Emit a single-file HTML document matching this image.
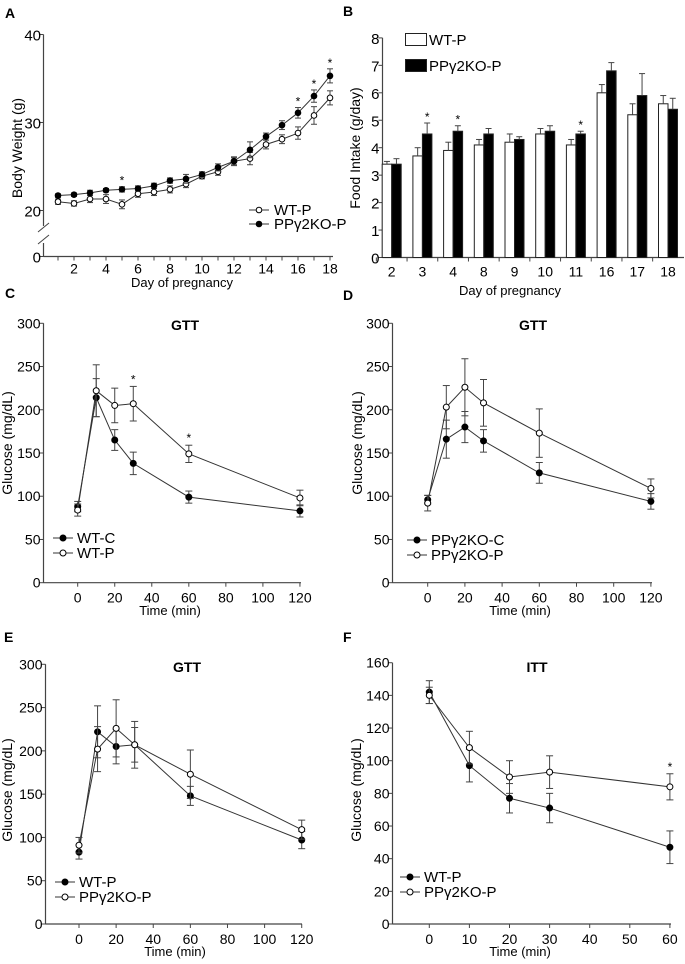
<!DOCTYPE html>
<html><head><meta charset="utf-8"><style>
body{margin:0;background:#fff;}
svg{display:block;font-family:"Liberation Sans",Arial,sans-serif;}
</style></head><body>
<svg id="fig" width="685" height="964" viewBox="0 0 685 964" xmlns="http://www.w3.org/2000/svg">
<g font-weight="bold" font-size="14" fill="#000">
<text x="5" y="18">A</text>
<text x="343" y="16">B</text>
<text x="5" y="298">C</text>
<text x="343" y="300">D</text>
<text x="4" y="642">E</text>
<text x="343" y="642">F</text>
</g>
<g id="root"></g>
</svg>
<script>
// ---- Panel A data ----
const aDays=[1,2,3,4,5,6,7,8,9,10,11,12,13,14,15,16,17,18];
const aWT=[21.0,20.8,21.3,21.3,20.7,21.9,22.1,22.4,23.0,23.9,24.4,25.6,25.9,27.5,28.1,28.8,30.8,32.8];
const aWTerr=[0.3,0.3,0.4,0.5,0.5,0.4,0.4,0.4,0.4,0.3,0.4,0.5,0.7,0.5,0.5,0.7,1.0,0.8];
const aKO=[21.7,21.8,22.0,22.3,22.4,22.5,22.8,23.4,23.6,24.1,24.9,25.6,26.9,28.4,29.7,31.1,33.0,35.3];
const aKOerr=[0.2,0.2,0.3,0.2,0.3,0.3,0.3,0.3,0.5,0.3,0.4,0.4,0.9,0.4,0.5,0.6,0.7,0.8];
const aStars=[5,16,17,18];
const aYTicks=[20,30,40];
const aXTicks=[2,4,6,8,10,12,14,16,18];
// ---- Panel B data ----
const bDays=["2","3","4","8","9","10","11","16","17","18"];
const bWT=[3.4,3.7,3.9,4.1,4.2,4.5,4.1,6.0,5.2,5.6];
const bWTerr=[0.1,0.3,0.3,0.2,0.3,0.2,0.2,0.3,0.4,0.3];
const bKO=[3.4,4.5,4.6,4.5,4.3,4.6,4.5,6.8,5.9,5.4];
const bKOerr=[0.2,0.4,0.2,0.2,0.1,0.2,0.1,0.3,0.8,0.4];
const bStars=["3","4","11"];
const bYTicks=[0,1,2,3,4,5,6,7,8];
// ---- Panel C data ----
const gttTimes=[0,10,20,30,60,120];
const cWTC=[88,214,165,138,99,83];
const cWTCerr=[6,22,12,13,7,7];
const cWTP=[84,222,205,207,149,98];
const cWTPerr=[7,30,20,20,10,9];
const cStars=[30,60];
// ---- Panel D data ----
const dKOC=[96,166,180,164,127,94];
const dKOCerr=[5,22,18,13,12,9];
const dKOP=[92,203,226,208,173,109];
const dKOPerr=[9,25,33,27,28,11];
// ---- Panel E data ----
const eWTP=[83,222,205,207,148,97];
const eWTPerr=[8,30,20,20,11,10];
const eKOP=[91,202,226,207,173,109];
const eKOPerr=[9,26,33,27,28,11];
// ---- Panel F data ----
const ittTimes=[0,10,20,30,60];
const fWTP=[142,97,77,71,47];
const fWTPerr=[7,10,9,9,10];
const fKOP=[140,108,90,93,84];
const fKOPerr=[5,10,10,10,8];
const fStars=[60];
const gYTicks=[0,50,100,150,200,250,300];
const gXTicks=[0,20,40,60,80,100,120];
const fYTicks=[0,20,40,60,80,100,120,140,160];
const fXTicks=[0,10,20,30,40,50,60];

const NS="http://www.w3.org/2000/svg";
const root=document.getElementById('root');
function el(tag,attrs,parent,text){const e=document.createElementNS(NS,tag);for(const k in attrs)e.setAttribute(k,attrs[k]);if(text!==undefined)e.textContent=text;(parent||root).appendChild(e);return e;}
const AX="#444";

function linePanel(p){
  const g=el('g',{});
  
  
  const X=v=>p.x0+v*p.xs, Y=v=>p.y0-v*p.ys;
  // axes
  const ya=el('line',{x1:p.ax,y1:Y(p.yTicks[p.yTicks.length-1]),x2:p.ax,y2:p.y0,stroke:AX,'stroke-width':1.2},g);
  
  const xa=el('line',{x1:p.ax,y1:p.y0,x2:p.xEnd,y2:p.y0,stroke:AX,'stroke-width':1.2},g);
  
  p.yTicks.forEach(t=>{
    el('line',{x1:p.ax-4,y1:Y(t),x2:p.ax,y2:Y(t),stroke:AX},g);
    const tx=el('text',{x:p.ax-3,y:Y(t)+5,'text-anchor':'end','font-size':14},g,t);
    
  });
  p.xTicks.forEach(t=>{
    el('line',{x1:X(t),y1:p.y0,x2:X(t),y2:p.y0+4,stroke:AX},g);
    const tx=el('text',{x:X(t),y:p.y0+20,'text-anchor':'middle','font-size':14},g,t);
    
  });
  const xt=el('text',{x:p.xtX,y:p.xtY,'text-anchor':'middle','font-size':13},g,p.xTitle);
  
  const yt=el('text',{x:0,y:0,transform:`translate(${p.ytX},${p.ytY}) rotate(-90)`,'text-anchor':'middle','font-size':14},g,p.yTitle);
  
  const tt=el('text',{x:p.titleX,y:p.titleY,'text-anchor':'middle','font-size':14,'font-weight':'bold'},g,p.title);
  
  // series
  p.series.forEach(s=>{
    const pts=p.times.map((t,i)=>X(t)+','+Y(s.v[i])).join(' ');
    const pl=el('polyline',{points:pts,fill:'none',stroke:'#333','stroke-width':1},g);
    
    p.times.forEach((t,i)=>{
      const x=X(t),hi=Y(s.v[i]+s.e[i]),lo=Y(s.v[i]-s.e[i]);
      el('line',{x1:x,y1:hi,x2:x,y2:lo,stroke:'#444'},g);
      el('line',{x1:x-3.5,y1:hi,x2:x+3.5,y2:hi,stroke:'#444'},g);
      el('line',{x1:x-3.5,y1:lo,x2:x+3.5,y2:lo,stroke:'#444'},g);
      const c=el('circle',{cx:x,cy:Y(s.v[i]),r:3,fill:s.open?'#fff':'#000',stroke:'#000','stroke-width':1},g);
      
    });
    const lg=el('g',{},g);
    
    el('line',{x1:s.lx,y1:s.ly,x2:s.lx+20,y2:s.ly,stroke:'#333'},lg);
    el('circle',{cx:s.lx+10,cy:s.ly,r:3,fill:s.open?'#fff':'#000',stroke:'#000'},lg);
    el('text',{x:s.lx+24,y:s.ly+5,'font-size':15},lg,s.label);
  });
  (p.stars||[]).forEach(t=>{
    const i=p.times.indexOf(t);const s=p.series[p.starSeries];
    const st=el('text',{x:X(t),y:Y(s.v[i]+s.e[i])-3,'text-anchor':'middle','font-size':12},g,'*');
    
  });
  return g;
}

// Panel A
(function(){
  const g=el('g',{});
  
  
  const ys=8.8,y30=122.5;
  const X=d=>74+(d-2)*16, Y=v=>y30-(v-30)*ys, y0=256.5;
  el('line',{x1:43.5,y1:Y(40),x2:43.5,y2:226,stroke:AX,'stroke-width':1.2},g);
  el('line',{x1:43.5,y1:243,x2:43.5,y2:y0,stroke:AX,'stroke-width':1.2},g);
  el('line',{x1:38,y1:232,x2:49,y2:223,stroke:AX},g);
  el('line',{x1:38,y1:244,x2:49,y2:235,stroke:AX},g);
  el('line',{x1:43.5,y1:y0,x2:333,y2:y0,stroke:AX,'stroke-width':1.2},g);
  aYTicks.forEach(t=>{el('line',{x1:39.5,y1:Y(t),x2:43.5,y2:Y(t),stroke:AX},g);
    const tx=el('text',{x:41,y:Y(t)+6,'text-anchor':'end','font-size':15},g,t);
    });
  el('line',{x1:39.5,y1:y0,x2:43.5,y2:y0,stroke:AX},g);
  el('text',{x:41,y:y0+6,'text-anchor':'end','font-size':15},g,'0');
  aDays.forEach(d=>el('line',{x1:X(d),y1:y0,x2:X(d),y2:y0+4,stroke:AX},g));
  aXTicks.forEach(d=>{const tx=el('text',{x:X(d),y:y0+17,'text-anchor':'middle','font-size':14},g,d);
    });
  const xt=el('text',{x:182,y:287,'text-anchor':'middle','font-size':13},g,'Day of pregnancy');
  
  const yt=el('text',{x:0,y:0,transform:'translate(22,148) rotate(-90)','text-anchor':'middle','font-size':14},g,'Body Weight (g)');
  
  [[aWT,aWTerr,true,'wt-p',210,'WT-P'],[aKO,aKOerr,false,'ppg2ko-p',224,'PPγ2KO-P']].forEach(([v,e,open,key,ly,lab])=>{
    const pl=el('polyline',{points:aDays.map((d,i)=>X(d)+','+Y(v[i])).join(' '),fill:'none',stroke:'#333'},g);
    
    aDays.forEach((d,i)=>{const x=X(d),hi=Y(v[i]+e[i]),lo=Y(v[i]-e[i]);
      el('line',{x1:x,y1:hi,x2:x,y2:lo,stroke:'#444'},g);
      el('line',{x1:x-3,y1:hi,x2:x+3,y2:hi,stroke:'#444'},g);
      el('line',{x1:x-3,y1:lo,x2:x+3,y2:lo,stroke:'#444'},g);
      const c=el('circle',{cx:x,cy:Y(v[i]),r:2.8,fill:open?'#fff':'#000',stroke:'#000'},g);
      });
    const lg=el('g',{},g);
    el('line',{x1:249,y1:ly,x2:269,y2:ly,stroke:'#333'},lg);
    el('circle',{cx:259,cy:ly,r:2.8,fill:open?'#fff':'#000',stroke:'#000'},lg);
    el('text',{x:274,y:ly+5,'font-size':15},lg,lab);
  });
  aStars.forEach(d=>{const i=aDays.indexOf(d);
    const st=el('text',{x:X(d),y:Y(aKO[i]+aKOerr[i])-2,'text-anchor':'middle','font-size':12},g,'*');
    });
})();

// Panel B
(function(){
  const g=el('g',{});
  
  
  const y0=257.5,ys=27.45,ax=382.5;
  const Y=v=>y0-v*ys, X=i=>391.7+i*30.7, bw=9.5;
  el('line',{x1:ax,y1:Y(8),x2:ax,y2:y0,stroke:AX,'stroke-width':1.2},g);
  el('line',{x1:ax,y1:y0,x2:684,y2:y0,stroke:AX,'stroke-width':1.2},g);
  bYTicks.forEach(t=>{el('line',{x1:ax-4,y1:Y(t),x2:ax,y2:Y(t),stroke:AX},g);
    const tx=el('text',{x:ax-3,y:Y(t)+6,'text-anchor':'end','font-size':15},g,t);
    });
  bDays.forEach((d,i)=>{
    const cx=X(i);
    el('line',{x1:cx-15.35,y1:y0,x2:cx-15.35,y2:y0+4,stroke:AX},g);
    const tx=el('text',{x:cx,y:y0+19,'text-anchor':'middle','font-size':14},g,d);
    
    [[bWT[i],bWTerr[i],cx-bw,'#fff','wt-p-bar'],[bKO[i],bKOerr[i],cx,'#000','ppg2ko-p-bar']].forEach(([v,e,x,f,nm])=>{
      const r=el('rect',{x:x,y:Y(v),width:bw,height:y0-Y(v),fill:f,stroke:'#222','stroke-width':1},g);
      
      el('line',{x1:x+bw/2,y1:Y(v),x2:x+bw/2,y2:Y(v+e),stroke:'#444'},g);
      el('line',{x1:x+bw/2-3,y1:Y(v+e),x2:x+bw/2+3,y2:Y(v+e),stroke:'#444'},g);
    });
    if(bStars.includes(d)){const st=el('text',{x:cx+bw/2,y:Y(bKO[i]+bKOerr[i])-2,'text-anchor':'middle','font-size':12},g,'*');
      }
  });
  const xt=el('text',{x:510,y:295,'text-anchor':'middle','font-size':13},g,'Day of pregnancy');
  
  const yt=el('text',{x:0,y:0,transform:'translate(360,148) rotate(-90)','text-anchor':'middle','font-size':14},g,'Food Intake (g/day)');
  
  const l1=el('g',{},g);
  el('rect',{x:405.5,y:33.5,width:21,height:12,fill:'#fff',stroke:'#222'},l1);
  el('text',{x:429,y:45,'font-size':15},l1,'WT-P');
  const l2=el('g',{},g);
  el('rect',{x:405.5,y:59.5,width:21,height:12,fill:'#000',stroke:'#222'},l2);
  el('text',{x:429,y:71,'font-size':15},l2,'PPγ2KO-P');
})();

linePanel({name:'panel-c-gtt-wt',x0:77.7,xs:1.852,y0:582.7,ys:0.8647,ax:43.5,xEnd:301,yTicks:gYTicks,xTicks:gXTicks,times:gttTimes,
  xTitle:'Time (min)',xtX:170,xtY:615,yTitle:'Glucose (mg/dL)',ytX:12,ytY:443,title:'GTT',titleX:185,titleY:330,
  series:[{key:'wt-c',v:cWTC,e:cWTCerr,open:false,lx:53,ly:538,label:'WT-C'},{key:'wt-p',v:cWTP,e:cWTPerr,open:true,lx:53,ly:553,label:'WT-P'}],
  stars:cStars,starSeries:1});
linePanel({name:'panel-d-gtt-ko',x0:427.7,xs:1.86,y0:582.7,ys:0.8647,ax:392.5,xEnd:652,yTicks:gYTicks,xTicks:gXTicks,times:gttTimes,
  xTitle:'Time (min)',xtX:520,xtY:615,yTitle:'Glucose (mg/dL)',ytX:362,ytY:443,title:'GTT',titleX:533,titleY:330,
  series:[{key:'ppg2ko-c',v:dKOC,e:dKOCerr,open:false,lx:407,ly:540,label:'PPγ2KO-C'},{key:'ppg2ko-p',v:dKOP,e:dKOPerr,open:true,lx:407,ly:555,label:'PPγ2KO-P'}]});
linePanel({name:'panel-e-gtt-pregnant',x0:79,xs:1.856,y0:924,ys:0.8657,ax:45.5,xEnd:302,yTicks:gYTicks,xTicks:gXTicks,times:gttTimes,
  xTitle:'Time (min)',xtX:175,xtY:956,yTitle:'Glucose (mg/dL)',ytX:12,ytY:790,title:'GTT',titleX:187,titleY:672,
  series:[{key:'wt-p',v:eWTP,e:eWTPerr,open:false,lx:55,ly:882,label:'WT-P'},{key:'ppg2ko-p',v:eKOP,e:eKOPerr,open:true,lx:55,ly:897,label:'PPγ2KO-P'}]});
linePanel({name:'panel-f-itt',x0:429.3,xs:4.01,y0:924,ys:1.633,ax:392.5,xEnd:671,yTicks:fYTicks,xTicks:fXTicks,times:ittTimes,
  xTitle:'Time (min)',xtX:520,xtY:956,yTitle:'Glucose (mg/dL)',ytX:361,ytY:790,title:'ITT',titleX:537,titleY:672,
  series:[{key:'wt-p',v:fWTP,e:fWTPerr,open:false,lx:400,ly:877,label:'WT-P'},{key:'ppg2ko-p',v:fKOP,e:fKOPerr,open:true,lx:400,ly:892,label:'PPγ2KO-P'}],
  stars:fStars,starSeries:1});
</script>
</body></html>
